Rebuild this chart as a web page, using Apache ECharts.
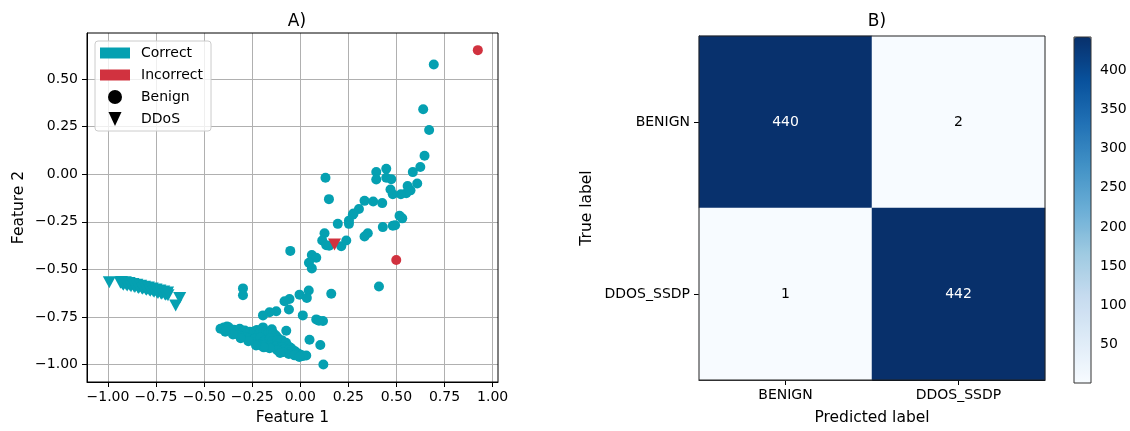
<!DOCTYPE html>
<html>
<head>
<meta charset="utf-8">
<script src="https://cdn.jsdelivr.net/npm/echarts@6/dist/echarts.min.js"></script>
<style>
  html, body { margin: 0; padding: 0; background: #fff; }
  #chart { width: 1130px; height: 431px; }
</style>
</head>
<body>
<div id="chart"></div>
<script>
// ---- Panel A: 2-D feature projection ----
const xTicks = [-1, -0.75, -0.5, -0.25, 0, 0.25, 0.5, 0.75, 1];
const yTicks = [-1, -0.75, -0.5, -0.25, 0, 0.25, 0.5];

// correctly classified benign samples (circles)
const correctBenign = [
  [0.694, 0.576], [0.639, 0.341], [0.670, 0.232], [0.646, 0.097], [0.624, 0.038],
  [0.585, 0.011], [0.608, -0.049], [0.558, -0.062], [0.573, -0.085], [0.551, -0.100],
  [0.523, -0.105], [0.481, -0.105], [0.469, -0.080], [0.473, -0.026], [0.447, -0.019],
  [0.447, 0.029], [0.395, 0.012], [0.395, -0.028], [0.131, -0.019], [0.149, -0.131],
  [0.334, -0.140], [0.379, -0.143], [0.426, -0.152], [0.516, -0.218], [0.530, -0.232],
  [0.305, -0.183], [0.277, -0.206], [0.273, -0.213], [0.253, -0.244], [0.195, -0.261],
  [0.253, -0.261], [0.429, -0.278], [0.481, -0.271], [0.493, -0.268], [0.351, -0.310],
  [0.334, -0.327], [0.126, -0.310], [0.114, -0.348], [0.135, -0.373], [0.150, -0.376],
  [0.213, -0.379], [0.239, -0.348], [-0.052, -0.403], [0.060, -0.425], [0.083, -0.439],
  [0.045, -0.465], [0.060, -0.495], [0.409, -0.590], [0.161, -0.628], [-0.298, -0.600],
  [-0.298, -0.636], [0.044, -0.611], [-0.004, -0.633], [0.034, -0.650], [-0.056, -0.656],
  [-0.082, -0.668], [-0.059, -0.711], [-0.125, -0.720], [-0.160, -0.725], [-0.194, -0.742],
  [0.013, -0.742], [0.083, -0.763], [0.118, -0.771], [0.097, -0.770], [0.048, -0.870],
  [0.104, -0.898], [0.120, -1.000], [0.031, -0.953], [-0.073, -0.823], [-0.148, -0.815],
  [-0.381, -0.800], [-0.194, -0.805],
  [-0.415, -0.812], [-0.398, -0.806], [-0.385, -0.816], [-0.372, -0.804], [-0.360, -0.822],
  [-0.345, -0.818], [-0.330, -0.826], [-0.315, -0.812], [-0.300, -0.830], [-0.288, -0.821],
  [-0.275, -0.836], [-0.262, -0.828], [-0.250, -0.842], [-0.238, -0.825], [-0.226, -0.819],
  [-0.214, -0.838], [-0.205, -0.822], [-0.190, -0.830], [-0.178, -0.826], [-0.165, -0.833],
  [-0.152, -0.828], [-0.140, -0.836], [-0.128, -0.846], [-0.118, -0.858],
  [-0.320, -0.845], [-0.300, -0.852], [-0.282, -0.858], [-0.265, -0.862], [-0.250, -0.870],
  [-0.235, -0.865], [-0.222, -0.878], [-0.208, -0.860], [-0.195, -0.884], [-0.182, -0.872],
  [-0.170, -0.890], [-0.158, -0.862], [-0.145, -0.878], [-0.132, -0.892], [-0.120, -0.874],
  [-0.108, -0.884], [-0.096, -0.872], [-0.086, -0.896], [-0.074, -0.886], [-0.062, -0.904],
  [-0.050, -0.912], [-0.038, -0.924], [-0.025, -0.932],
  [-0.215, -0.895], [-0.200, -0.902], [-0.185, -0.898], [-0.170, -0.906], [-0.155, -0.900],
  [-0.140, -0.910], [-0.125, -0.904], [-0.110, -0.912], [-0.095, -0.908], [-0.080, -0.918],
  [-0.065, -0.926], [-0.050, -0.934], [-0.035, -0.940], [-0.020, -0.946], [-0.008, -0.944],
  [0.005, -0.950], [0.012, -0.956],
  [-0.060, -0.945], [-0.090, -0.935], [-0.120, -0.925], [-0.030, -0.952], [-0.160, -0.915],
  [-0.190, -0.910], [-0.230, -0.900], [-0.270, -0.878], [-0.310, -0.862], [-0.350, -0.842],
  [-0.390, -0.828], [-0.105, -0.940], [-0.005, -0.960]
];

// correctly classified DDoS samples (down triangles)
const correctDdos = [
  [-0.993, -0.568],
  [-0.935, -0.570], [-0.925, -0.576], [-0.915, -0.572], [-0.905, -0.580], [-0.895, -0.576],
  [-0.885, -0.584], [-0.875, -0.580], [-0.865, -0.589], [-0.855, -0.585], [-0.845, -0.594],
  [-0.835, -0.590], [-0.825, -0.598], [-0.815, -0.595], [-0.805, -0.603], [-0.795, -0.600],
  [-0.785, -0.608], [-0.775, -0.605], [-0.765, -0.614], [-0.755, -0.610], [-0.745, -0.620],
  [-0.735, -0.616], [-0.725, -0.625], [-0.715, -0.621], [-0.705, -0.630], [-0.695, -0.628],
  [-0.688, -0.636],
  [-0.930, -0.566], [-0.920, -0.581], [-0.910, -0.568], [-0.900, -0.585], [-0.890, -0.572],
  [-0.880, -0.589], [-0.870, -0.577], [-0.860, -0.593], [-0.850, -0.581], [-0.840, -0.598],
  [-0.830, -0.586], [-0.820, -0.602], [-0.810, -0.591], [-0.800, -0.607], [-0.790, -0.595],
  [-0.780, -0.612], [-0.770, -0.600], [-0.760, -0.618], [-0.750, -0.606], [-0.740, -0.624],
  [-0.730, -0.611], [-0.720, -0.628], [-0.710, -0.616], [-0.700, -0.633], [-0.690, -0.622],
  [-0.627, -0.650], [-0.648, -0.690]
];

// misclassified samples
const incorrectBenign = [[0.923, 0.652], [0.499, -0.451]];
const incorrectDdos = [[0.178, -0.370]];

// ---- Panel B: confusion matrix ----
const classLabels = ['BENIGN', 'DDOS_SSDP'];
const confusion = [
  [440, 2],   // true BENIGN
  [1, 442]    // true DDOS_SSDP
];
const colorbarTicks = [50, 100, 150, 200, 250, 300, 350, 400];

const TEAL = '#05a0b1';
const RED = '#d1323f';
const FONT = 'DejaVu Sans';
const blues = ['#f7fbff', '#deebf7', '#c6dbef', '#9ecae1', '#6baed6',
               '#4292c6', '#2171b5', '#08519c', '#08306b'];

const fmt2 = v => (v < 0 ? '\u2212' : '') + Math.abs(v).toFixed(2);

const flat = confusion.flat();
const cmMin = Math.min(...flat);
const cmMax = Math.max(...flat);
const thresh = cmMax / 2;
const heatData = [];
confusion.forEach((row, i) => row.forEach((v, j) => {
  heatData.push({ value: [j, i, v], label: { color: v > thresh ? '#ffffff' : '#000000' } });
}));

const tickStyle = { color: '#000', fontFamily: FONT, fontSize: 14 };
const nameStyle = { color: '#000', fontFamily: FONT, fontSize: 15.5 };
const lineBlack = { show: true, onZero: false, lineStyle: { color: '#000', width: 1 } };

const chart = echarts.init(document.getElementById('chart'), null, { renderer: 'canvas' });

chart.setOption({
  animation: false,
  backgroundColor: '#fff',
  title: [
    { text: 'A)', left: 292, top: 8, textAlign: 'center',
      textStyle: { fontFamily: FONT, fontSize: 17, fontWeight: 'normal', color: '#000' } },
    { text: 'B)', left: 872, top: 8, textAlign: 'center',
      textStyle: { fontFamily: FONT, fontSize: 17, fontWeight: 'normal', color: '#000' } }
  ],
  legend: {
    left: 95, top: 41, orient: 'vertical',
    padding: [5, 8, 5, 5],
    itemWidth: 30, itemHeight: 14, itemGap: 8,
    selectedMode: false,
    backgroundColor: 'rgba(255,255,255,0.8)',
    borderColor: '#cccccc', borderWidth: 1, borderRadius: 3,
    textStyle: { fontFamily: FONT, fontSize: 14, color: '#000', lineHeight: 14, padding: [0, 0, 0, 6] },
    data: [
      { name: 'Correct', icon: 'path://M0,0H30V11H0Z' },
      { name: 'Incorrect', icon: 'path://M0,0H30V11H0Z' },
      { name: 'Benign', icon: 'circle' },
      { name: 'DDoS', icon: 'path://M0,0H13L6.5,14Z' }
    ]
  },
  grid: [
    { left: 87, top: 33, width: 411, height: 354, show: true, z: 10,
      borderColor: '#000', borderWidth: 1, backgroundColor: 'transparent' },
    { left: 699, top: 36, width: 346, height: 347, show: true, z: 10,
      borderColor: '#222', borderWidth: 1, backgroundColor: 'transparent' },
    { left: 1074, top: 37, width: 17, height: 346, show: true, z: 10,
      borderColor: '#333', borderWidth: 1, backgroundColor: 'transparent' }
  ],
  xAxis: [
    { gridIndex: 0, type: 'value', min: -1.109, max: 1.028,
      name: 'Feature 1', nameLocation: 'middle', nameGap: 28, nameTextStyle: nameStyle,
      axisLine: lineBlack,
      axisTick: { show: true, length: 5, lineStyle: { color: '#000' }, customValues: xTicks },
      axisLabel: { ...tickStyle, margin: 8, customValues: xTicks, formatter: fmt2 },
      splitLine: { show: true, lineStyle: { color: '#b0b0b0', width: 1 } } },
    { gridIndex: 1, type: 'category', data: classLabels, position: 'bottom',
      name: 'Predicted label', nameLocation: 'middle', nameGap: 30, nameTextStyle: nameStyle,
      axisLine: lineBlack,
      axisTick: { show: true, alignWithLabel: true, length: 5, lineStyle: { color: '#000' } },
      axisLabel: { ...tickStyle, margin: 8 },
      splitLine: { show: false } },
    { gridIndex: 2, type: 'value', show: false, min: 0, max: 1 }
  ],
  yAxis: [
    { gridIndex: 0, type: 'value', min: -1.092, max: 0.742,
      name: 'Feature 2', nameLocation: 'middle', nameGap: 60, nameTextStyle: nameStyle,
      axisLine: lineBlack,
      axisTick: { show: true, length: 5, lineStyle: { color: '#000' }, customValues: yTicks },
      axisLabel: { ...tickStyle, margin: 9, customValues: yTicks, formatter: fmt2 },
      splitLine: { show: true, lineStyle: { color: '#b0b0b0', width: 1 } } },
    { gridIndex: 1, type: 'category', data: classLabels, inverse: true,
      name: 'True label', nameLocation: 'middle', nameGap: 104, nameTextStyle: nameStyle,
      axisLine: lineBlack,
      axisTick: { show: true, alignWithLabel: true, length: 5, lineStyle: { color: '#000' } },
      axisLabel: { ...tickStyle, margin: 9 },
      splitLine: { show: false } },
    { gridIndex: 2, type: 'value', position: 'right', min: cmMin, max: cmMax,
      axisLine: { show: false },
      axisTick: { show: true, length: 4, lineStyle: { color: '#000' }, customValues: colorbarTicks },
      axisLabel: { ...tickStyle, margin: 9, customValues: colorbarTicks },
      splitLine: { show: false } }
  ],
  visualMap: {
    type: 'continuous', min: cmMin, max: cmMax, seriesIndex: 6,
    calculable: false, orient: 'vertical',
    left: 1074, top: 37, itemWidth: 17, itemHeight: 346, padding: 0,
    text: null, showLabel: false,
    inRange: { color: blues }
  },
  series: [
    { name: 'Correct', type: 'scatter', data: [], itemStyle: { color: TEAL, opacity: 1 } },
    { name: 'Incorrect', type: 'scatter', data: [], itemStyle: { color: RED, opacity: 1 } },
    { name: 'Benign', type: 'scatter', data: [], itemStyle: { color: '#000', opacity: 1 } },
    { name: 'DDoS', type: 'scatter', data: [], itemStyle: { color: '#000', opacity: 1 } },
    { type: 'scatter', xAxisIndex: 0, yAxisIndex: 0, data: correctBenign,
      symbol: 'circle', symbolSize: 10, itemStyle: { color: TEAL, opacity: 1 } },
    { type: 'scatter', xAxisIndex: 0, yAxisIndex: 0, data: correctDdos,
      symbol: 'triangle', symbolRotate: 180, symbolSize: [13, 12], itemStyle: { color: TEAL, opacity: 1 } },
    { type: 'heatmap', xAxisIndex: 1, yAxisIndex: 1, data: heatData,
      label: { show: true, fontFamily: FONT, fontSize: 14 },
      itemStyle: { borderWidth: 0 } },
    { type: 'scatter', xAxisIndex: 0, yAxisIndex: 0, data: incorrectBenign,
      symbol: 'circle', symbolSize: 10, itemStyle: { color: RED, opacity: 1 } },
    { type: 'scatter', xAxisIndex: 0, yAxisIndex: 0, data: incorrectDdos,
      symbol: 'triangle', symbolRotate: 180, symbolSize: [13, 12], itemStyle: { color: RED, opacity: 1 } }
  ]
});
</script>
</body>
</html>
